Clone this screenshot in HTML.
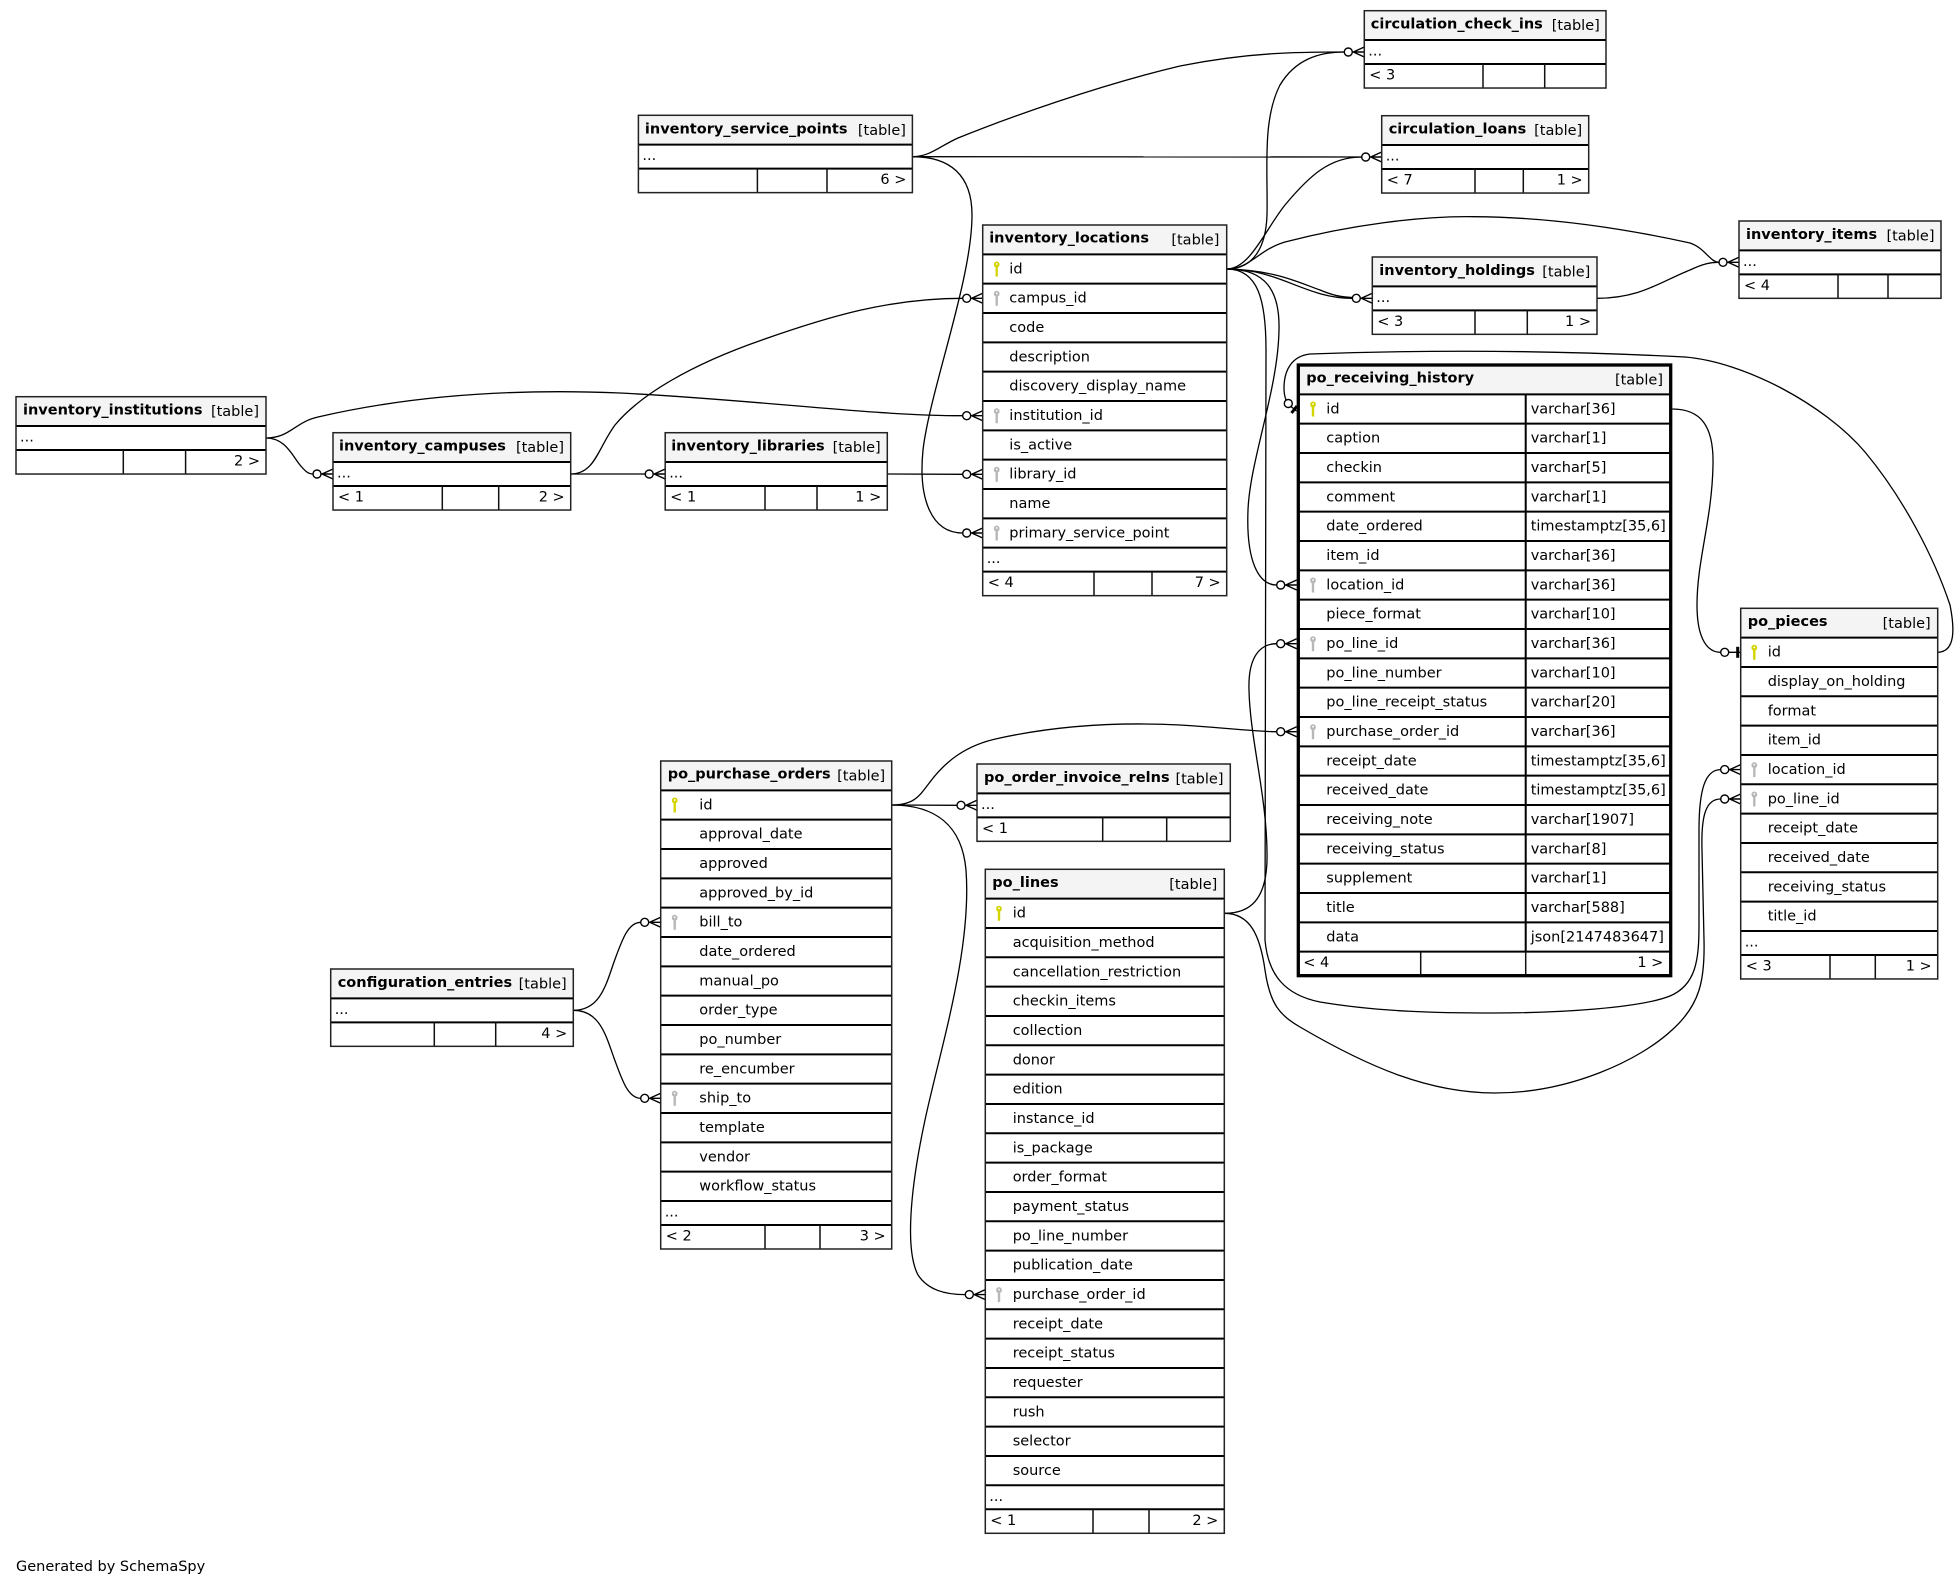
<!DOCTYPE html>
<html><head><meta charset="utf-8"><style>
html,body{margin:0;padding:0;background:#fff}
svg{display:block}
text{font-family:"DejaVu Sans","Liberation Sans",sans-serif;font-size:14.5px;fill:#000}
.b{font-weight:bold}
.r{text-anchor:end}
.bg{fill:#fff}
.hd{fill:#f4f4f4}
.ol{fill:none;stroke:#222;stroke-width:1.5}
.olt{fill:none;stroke:#000;stroke-width:3.3}
.sp{fill:none;stroke:#000;stroke-width:2}
.vs{fill:none;stroke:#111;stroke-width:1.5}
.e{fill:none;stroke:#000;stroke-width:1.3}
</style></head><body>
<svg width="1957" height="1588" viewBox="0 0 1957 1588" xmlns="http://www.w3.org/2000/svg">
<defs>
<g id="kp"><ellipse cx="0" cy="-4.5" rx="2.9" ry="3" fill="#d4d400"/><rect x="-1.2" y="-2.5" width="2.4" height="10" fill="#d4d400"/><circle cx="0" cy="-5" r="0.9" fill="#fff"/></g>
<g id="kf"><ellipse cx="0" cy="-4.5" rx="2.9" ry="3" fill="#b8b8b8"/><rect x="-1.2" y="-2.5" width="2.4" height="10" fill="#b8b8b8"/><circle cx="0" cy="-5" r="0.9" fill="#fff"/></g>
<g id="cr"><circle cx="-16" cy="0" r="4" fill="#fff" stroke="#000" stroke-width="1.4"/><path d="M-12,0H0M-11,0L0,-5M-11,0L0,5" fill="none" stroke="#000" stroke-width="1.4"/></g>
<g id="te"><circle cx="-16" cy="0" r="4" fill="#fff" stroke="#000" stroke-width="1.4"/><path d="M-12,0H0" stroke="#000" stroke-width="1.4"/><rect x="-4.5" y="-5.5" width="3" height="11" fill="#000"/></g>
</defs>

<!-- EDGES -->
<path class="e" d="M912.4,156.7 C930,156.7 940,146 958,138 C1010,117 1100,85 1180,66 C1250,52 1300,52 1344.3,52"/>
<path class="e" d="M912.4,156.7 L1361.7,157"/>
<path class="e" d="M912.4,156.7 C950,156.7 972,175 972,215 C972,280 930,390 923,450 C918,500 932,533 962.7,533"/>
<path class="e" d="M570.7,474 C595,474 598,448 615,425 C640,395 690,365 762,340 C830,316 890,298.3 962.7,298.3"/>
<path class="e" d="M266,438 C290,438 295,422 318,417 C400,398 500,388 620,393 C760,400 870,415.7 962.7,415.7"/>
<path class="e" d="M266,438 C285,438 292,455 300,465 C305,471 308,474 313,474"/>
<path class="e" d="M570.7,474 L645.2,474"/>
<path class="e" d="M887.3,474 L962.7,474.3"/>
<path class="e" d="M1226.7,269 C1255,269 1266,245 1267,215 C1268,170 1262,120 1280,85 C1295,60 1318,52 1344.3,52"/>
<path class="e" d="M1226.7,269 C1250,269 1265,230 1285,205 C1310,175 1330,157 1361.7,157"/>
<path class="e" d="M1226.7,269 C1250,269 1258,250 1285,242 C1350,225 1420,216 1473,216.7 C1560,217 1640,232 1690,243 C1705,248 1710,262.3 1719,262.3"/>
<path class="e" d="M1226.7,269 C1280,269 1305,298.3 1352.3,298.3"/>
<path class="e" d="M1226.7,269 C1275,270 1300,283 1320,290 C1332,295 1340,297 1352.3,297.5"/>
<path class="e" d="M1226.7,269 C1265,269 1280,290 1279,330 C1278,390 1250,460 1248,510 C1246,560 1258,585 1276.7,585"/>
<path class="e" d="M1226.7,269 C1258,269 1266,300 1266,350 L1265,940 C1268,975 1285,995 1320,1002 C1380,1012 1440,1013 1493,1013 C1560,1013 1640,1008 1670,996 C1696,985 1699,960 1699,925 L1699,830 C1699,790 1705,769.6 1720.7,769.6"/>
<path class="e" d="M1224.3,913.3 C1250,913.3 1266,900 1267,860 C1268,800 1250,740 1249,690 C1248,660 1258,643.7 1276.7,643.7"/>
<path class="e" d="M1224.3,913.3 C1250,913.3 1260,935 1265,970 C1270,1005 1280,1015 1300,1027 C1370,1068 1430,1093 1495,1093 C1570,1093 1640,1060 1672,1030 C1700,1005 1705,980 1704,940 L1702,850 C1701,815 1706,799 1720.7,799"/>
<path class="e" d="M891.7,805 C915,805 920,795 930,782 C945,762 965,745 1000,738 C1060,725 1120,722 1180,725 C1230,728 1255,731.7 1276.7,731.7"/>
<path class="e" d="M891.7,805 L957,805.3"/>
<path class="e" d="M891.7,805 C935,805 962,825 966,870 C972,950 940,1050 925,1120 C910,1190 905,1250 918,1275 C928,1290 945,1294.6 965.3,1294.6"/>
<path class="e" d="M573.3,1010.3 C600,1010.3 606,985 614,962 C622,940 628,922.3 640.7,922.3"/>
<path class="e" d="M573.3,1010.3 C600,1010.3 606,1036 614,1058 C622,1080 628,1098.3 640.7,1098.3"/>
<path class="e" d="M1597,298.3 C1640,298.3 1660,282 1690,270 C1703,264 1710,262.3 1719,262.3"/>
<path class="e" d="M1672.3,409 C1700,409 1714,425 1713,465 C1712,520 1697,560 1697,605 C1697,640 1708,652.3 1720.7,652.3"/>
<path class="e" d="M1937.7,652.3 C1955,652 1955,630 1950,605 C1935,560 1905,500 1865,452 C1825,405 1745,362 1685,357 C1550,350 1420,350 1310,354 C1292,356 1284,370 1284,388 C1284,395 1285,397 1286,400"/>
<circle cx="1288.3" cy="403.5" r="4" fill="#fff" stroke="#000" stroke-width="1.4"/>
<path d="M1291,406.5 L1296.5,411" stroke="#000" stroke-width="1.4"/>
<path d="M1291.5,413 L1297,406" stroke="#000" stroke-width="3"/>

<!-- MARKERS -->
<use href="#cr" x="1364.3" y="52"/>
<use href="#cr" x="1381.7" y="157"/>
<use href="#cr" x="982.7" y="533"/>
<use href="#cr" x="982.7" y="298.3"/>
<use href="#cr" x="982.7" y="415.7"/>
<use href="#cr" x="333" y="474"/>
<use href="#cr" x="665.2" y="474"/>
<use href="#cr" x="982.7" y="474.3"/>
<use href="#cr" x="1739" y="262.3"/>
<use href="#cr" x="1372.3" y="298.3"/>
<use href="#cr" x="1296.7" y="585"/>
<use href="#cr" x="1740.7" y="769.6"/>
<use href="#cr" x="1296.7" y="643.7"/>
<use href="#cr" x="1740.7" y="799"/>
<use href="#cr" x="1296.7" y="731.7"/>
<use href="#cr" x="977" y="805.3"/>
<use href="#cr" x="985.3" y="1294.6"/>
<use href="#cr" x="660.7" y="922.3"/>
<use href="#cr" x="660.7" y="1098.3"/>
<use href="#te" x="1740.7" y="652.3"/>

<!-- inventory_institutions -->
<g transform="translate(16,396.7)">
<rect class="bg" width="250" height="77.33"/><rect class="hd" width="250" height="29.33"/>
<path class="sp" d="M0,29.33H250M0,53.33H250"/>
<path class="vs" d="M107.3,53.33V77.33M169.6,53.33V77.33"/>
<rect class="ol" width="250" height="77.33"/>
<text class="b" x="7" y="18">inventory_institutions</text>
<text class="r" x="243" y="19.5">[table]</text>
<text x="4" y="44.8">...</text>
<text class="r" x="244" y="68.8">2 &gt;</text>
</g>

<!-- inventory_campuses -->
<g transform="translate(333,432.7)">
<rect class="bg" width="237.7" height="77.33"/><rect class="hd" width="237.7" height="29.33"/>
<path class="sp" d="M0,29.33H237.7M0,53.33H237.7"/>
<path class="vs" d="M109.3,53.33V77.33M165.7,53.33V77.33"/>
<rect class="ol" width="237.7" height="77.33"/>
<text class="b" x="6" y="18">inventory_campuses</text>
<text class="r" x="231" y="19.5">[table]</text>
<text x="4" y="44.8">...</text>
<text x="5" y="68.8">&lt; 1</text>
<text class="r" x="231.7" y="68.8">2 &gt;</text>
</g>

<!-- inventory_libraries -->
<g transform="translate(665.2,432.7)">
<rect class="bg" width="222.1" height="77.33"/><rect class="hd" width="222.1" height="29.33"/>
<path class="sp" d="M0,29.33H222.1M0,53.33H222.1"/>
<path class="vs" d="M99.8,53.33V77.33M151.8,53.33V77.33"/>
<rect class="ol" width="222.1" height="77.33"/>
<text class="b" x="6" y="18">inventory_libraries</text>
<text class="r" x="215.5" y="19.5">[table]</text>
<text x="4" y="44.8">...</text>
<text x="5" y="68.8">&lt; 1</text>
<text class="r" x="216.1" y="68.8">1 &gt;</text>
</g>

<!-- inventory_service_points -->
<g transform="translate(638.4,115.3)">
<rect class="bg" width="274" height="77.33"/><rect class="hd" width="274" height="29.33"/>
<path class="sp" d="M0,29.33H274M0,53.33H274"/>
<path class="vs" d="M119,53.33V77.33M188.6,53.33V77.33"/>
<rect class="ol" width="274" height="77.33"/>
<text class="b" x="6.5" y="18">inventory_service_points</text>
<text class="r" x="267.5" y="19.5">[table]</text>
<text x="4" y="44.8">...</text>
<text class="r" x="268" y="68.8">6 &gt;</text>
</g>

<!-- circulation_check_ins -->
<g transform="translate(1364.3,10.7)">
<rect class="bg" width="241.7" height="77.33"/><rect class="hd" width="241.7" height="29.33"/>
<path class="sp" d="M0,29.33H241.7M0,53.33H241.7"/>
<path class="vs" d="M118.7,53.33V77.33M180.4,53.33V77.33"/>
<rect class="ol" width="241.7" height="77.33"/>
<text class="b" x="6.5" y="18">circulation_check_ins</text>
<text class="r" x="235.5" y="19.5">[table]</text>
<text x="4" y="44.8">...</text>
<text x="5" y="68.8">&lt; 3</text>
</g>

<!-- circulation_loans -->
<g transform="translate(1381.7,115.7)">
<rect class="bg" width="207" height="77.33"/><rect class="hd" width="207" height="29.33"/>
<path class="sp" d="M0,29.33H207M0,53.33H207"/>
<path class="vs" d="M93.3,53.33V77.33M141.6,53.33V77.33"/>
<rect class="ol" width="207" height="77.33"/>
<text class="b" x="7" y="18">circulation_loans</text>
<text class="r" x="200.5" y="19.5">[table]</text>
<text x="4" y="44.8">...</text>
<text x="5" y="68.8">&lt; 7</text>
<text class="r" x="201" y="68.8">1 &gt;</text>
</g>

<!-- inventory_holdings -->
<g transform="translate(1372.3,257)">
<rect class="bg" width="224.7" height="77.33"/><rect class="hd" width="224.7" height="29.33"/>
<path class="sp" d="M0,29.33H224.7M0,53.33H224.7"/>
<path class="vs" d="M102.7,53.33V77.33M155,53.33V77.33"/>
<rect class="ol" width="224.7" height="77.33"/>
<text class="b" x="7" y="18">inventory_holdings</text>
<text class="r" x="218" y="19.5">[table]</text>
<text x="4" y="44.8">...</text>
<text x="5" y="68.8">&lt; 3</text>
<text class="r" x="218.7" y="68.8">1 &gt;</text>
</g>

<!-- inventory_items -->
<g transform="translate(1739,221)">
<rect class="bg" width="202" height="77.33"/><rect class="hd" width="202" height="29.33"/>
<path class="sp" d="M0,29.33H202M0,53.33H202"/>
<path class="vs" d="M99,53.33V77.33M149,53.33V77.33"/>
<rect class="ol" width="202" height="77.33"/>
<text class="b" x="7" y="18">inventory_items</text>
<text class="r" x="195.5" y="19.5">[table]</text>
<text x="4" y="44.8">...</text>
<text x="5" y="68.8">&lt; 4</text>
</g>

<!-- po_order_invoice_relns -->
<g transform="translate(977,764)">
<rect class="bg" width="253.3" height="77.33"/><rect class="hd" width="253.3" height="29.33"/>
<path class="sp" d="M0,29.33H253.3M0,53.33H253.3"/>
<path class="vs" d="M125.7,53.33V77.33M189.7,53.33V77.33"/>
<rect class="ol" width="253.3" height="77.33"/>
<text class="b" x="7" y="18">po_order_invoice_relns</text>
<text class="r" x="246.5" y="19.5">[table]</text>
<text x="4" y="44.8">...</text>
<text x="5" y="68.8">&lt; 1</text>
</g>

<!-- configuration_entries -->
<g transform="translate(330.7,969)">
<rect class="bg" width="242.6" height="77.33"/><rect class="hd" width="242.6" height="29.33"/>
<path class="sp" d="M0,29.33H242.6M0,53.33H242.6"/>
<path class="vs" d="M103.6,53.33V77.33M165,53.33V77.33"/>
<rect class="ol" width="242.6" height="77.33"/>
<text class="b" x="7" y="18">configuration_entries</text>
<text class="r" x="236" y="19.5">[table]</text>
<text x="4" y="44.8">...</text>
<text class="r" x="236.6" y="68.8">4 &gt;</text>
</g>

<!-- inventory_locations -->
<g transform="translate(982.7,225)">
<rect class="bg" width="244" height="370.67"/><rect class="hd" width="244" height="29.33"/>
<path class="sp" d="M0,29.33H244M0,58.67H244M0,88H244M0,117.33H244M0,146.67H244M0,176H244M0,205.33H244M0,234.67H244M0,264H244M0,293.33H244M0,322.67H244M0,346.67H244"/>
<path class="vs" d="M111.3,346.67V370.67M169.3,346.67V370.67"/>
<rect class="ol" width="244" height="370.67"/>
<text class="b" x="6.5" y="17.5">inventory_locations</text>
<text class="r" x="236.7" y="19.5">[table]</text>
<use href="#kp" x="14" y="44"/><use href="#kf" x="14" y="73.3"/><use href="#kf" x="14" y="190.7"/><use href="#kf" x="14" y="249.3"/><use href="#kf" x="14" y="308"/>
<text x="26.6" y="48.3">id</text>
<text x="26.6" y="77.7">campus_id</text>
<text x="26.6" y="107">code</text>
<text x="26.6" y="136.3">description</text>
<text x="26.6" y="165.7">discovery_display_name</text>
<text x="26.6" y="195">institution_id</text>
<text x="26.6" y="224.3">is_active</text>
<text x="26.6" y="253.7">library_id</text>
<text x="26.6" y="283">name</text>
<text x="26.6" y="312.3">primary_service_point</text>
<text x="4" y="338.2">...</text>
<text x="5" y="362.2">&lt; 4</text>
<text class="r" x="238" y="362.2">7 &gt;</text>
</g>

<!-- po_receiving_history -->
<g transform="translate(1298.3,365)">
<rect class="bg" width="372.4" height="610.67"/><rect class="hd" width="372.4" height="29.33"/>
<path class="sp" d="M0,29.33H372.4M0,58.67H372.4M0,88H372.4M0,117.33H372.4M0,146.67H372.4M0,176H372.4M0,205.33H372.4M0,234.67H372.4M0,264H372.4M0,293.33H372.4M0,322.67H372.4M0,352H372.4M0,381.33H372.4M0,410.67H372.4M0,440H372.4M0,469.33H372.4M0,498.67H372.4M0,528H372.4M0,557.33H372.4M0,586.67H372.4M227.4,29.33V586.67"/>
<path class="vs" d="M122.4,586.67V610.67M227.4,586.67V610.67"/>
<rect class="olt" width="372.4" height="610.67"/>
<text class="b" x="8" y="17.5">po_receiving_history</text>
<text class="r" x="364.7" y="19.5">[table]</text>
<use href="#kp" x="14.7" y="44"/><use href="#kf" x="14.7" y="220"/><use href="#kf" x="14.7" y="278.7"/><use href="#kf" x="14.7" y="366.7"/>
<text x="28" y="48.3">id</text><text x="232.4" y="48.3">varchar[36]</text>
<text x="28" y="77.7">caption</text><text x="232.4" y="77.7">varchar[1]</text>
<text x="28" y="107">checkin</text><text x="232.4" y="107">varchar[5]</text>
<text x="28" y="136.3">comment</text><text x="232.4" y="136.3">varchar[1]</text>
<text x="28" y="165.7">date_ordered</text><text x="232.4" y="165.7">timestamptz[35,6]</text>
<text x="28" y="195">item_id</text><text x="232.4" y="195">varchar[36]</text>
<text x="28" y="224.3">location_id</text><text x="232.4" y="224.3">varchar[36]</text>
<text x="28" y="253.7">piece_format</text><text x="232.4" y="253.7">varchar[10]</text>
<text x="28" y="283">po_line_id</text><text x="232.4" y="283">varchar[36]</text>
<text x="28" y="312.3">po_line_number</text><text x="232.4" y="312.3">varchar[10]</text>
<text x="28" y="341.7">po_line_receipt_status</text><text x="232.4" y="341.7">varchar[20]</text>
<text x="28" y="371">purchase_order_id</text><text x="232.4" y="371">varchar[36]</text>
<text x="28" y="400.3">receipt_date</text><text x="232.4" y="400.3">timestamptz[35,6]</text>
<text x="28" y="429.7">received_date</text><text x="232.4" y="429.7">timestamptz[35,6]</text>
<text x="28" y="459">receiving_note</text><text x="232.4" y="459">varchar[1907]</text>
<text x="28" y="488.3">receiving_status</text><text x="232.4" y="488.3">varchar[8]</text>
<text x="28" y="517.7">supplement</text><text x="232.4" y="517.7">varchar[1]</text>
<text x="28" y="547">title</text><text x="232.4" y="547">varchar[588]</text>
<text x="28" y="576.3">data</text><text x="232.4" y="576.3">json[2147483647]</text>
<text x="5" y="602.2">&lt; 4</text>
<text class="r" x="365" y="602.2">1 &gt;</text>
</g>

<!-- po_pieces -->
<g transform="translate(1740.7,608.3)">
<rect class="bg" width="197" height="370.67"/><rect class="hd" width="197" height="29.33"/>
<path class="sp" d="M0,29.33H197M0,58.67H197M0,88H197M0,117.33H197M0,146.67H197M0,176H197M0,205.33H197M0,234.67H197M0,264H197M0,293.33H197M0,322.67H197M0,346.67H197"/>
<path class="vs" d="M89.3,346.67V370.67M134.6,346.67V370.67"/>
<rect class="ol" width="197" height="370.67"/>
<text class="b" x="7" y="17.5">po_pieces</text>
<text class="r" x="190" y="19.5">[table]</text>
<use href="#kp" x="13.6" y="44"/><use href="#kf" x="13.6" y="161.3"/><use href="#kf" x="13.6" y="190.7"/>
<text x="27" y="48.3">id</text>
<text x="27" y="77.7">display_on_holding</text>
<text x="27" y="107">format</text>
<text x="27" y="136.3">item_id</text>
<text x="27" y="165.7">location_id</text>
<text x="27" y="195">po_line_id</text>
<text x="27" y="224.3">receipt_date</text>
<text x="27" y="253.7">received_date</text>
<text x="27" y="283">receiving_status</text>
<text x="27" y="312.3">title_id</text>
<text x="4" y="338.2">...</text>
<text x="5" y="362.2">&lt; 3</text>
<text class="r" x="191" y="362.2">1 &gt;</text>
</g>

<!-- po_purchase_orders -->
<g transform="translate(660.7,761)">
<rect class="bg" width="231" height="488"/><rect class="hd" width="231" height="29.33"/>
<path class="sp" d="M0,29.33H231M0,58.67H231M0,88H231M0,117.33H231M0,146.67H231M0,176H231M0,205.33H231M0,234.67H231M0,264H231M0,293.33H231M0,322.67H231M0,352H231M0,381.33H231M0,410.67H231M0,440H231M0,464H231"/>
<path class="vs" d="M104.3,464V488M159.3,464V488"/>
<rect class="ol" width="231" height="488"/>
<text class="b" x="7" y="17.5">po_purchase_orders</text>
<text class="r" x="224.5" y="19.5">[table]</text>
<use href="#kp" x="14" y="44"/><use href="#kf" x="14" y="161.3"/><use href="#kf" x="14" y="337.3"/>
<text x="38.6" y="48.3">id</text>
<text x="38.6" y="77.7">approval_date</text>
<text x="38.6" y="107">approved</text>
<text x="38.6" y="136.3">approved_by_id</text>
<text x="38.6" y="165.7">bill_to</text>
<text x="38.6" y="195">date_ordered</text>
<text x="38.6" y="224.3">manual_po</text>
<text x="38.6" y="253.7">order_type</text>
<text x="38.6" y="283">po_number</text>
<text x="38.6" y="312.3">re_encumber</text>
<text x="38.6" y="341.7">ship_to</text>
<text x="38.6" y="371">template</text>
<text x="38.6" y="400.3">vendor</text>
<text x="38.6" y="429.7">workflow_status</text>
<text x="4" y="455.5">...</text>
<text x="5" y="479.5">&lt; 2</text>
<text class="r" x="225" y="479.5">3 &gt;</text>
</g>

<!-- po_lines -->
<g transform="translate(985.3,869.3)">
<rect class="bg" width="239" height="664"/><rect class="hd" width="239" height="29.33"/>
<path class="sp" d="M0,29.33H239M0,58.67H239M0,88H239M0,117.33H239M0,146.67H239M0,176H239M0,205.33H239M0,234.67H239M0,264H239M0,293.33H239M0,322.67H239M0,352H239M0,381.33H239M0,410.67H239M0,440H239M0,469.33H239M0,498.67H239M0,528H239M0,557.33H239M0,586.67H239M0,616H239M0,640H239"/>
<path class="vs" d="M107.7,640V664M163.7,640V664"/>
<rect class="ol" width="239" height="664"/>
<text class="b" x="7" y="17.5">po_lines</text>
<text class="r" x="232" y="19.5">[table]</text>
<use href="#kp" x="13.7" y="44"/><use href="#kf" x="13.7" y="425.3"/>
<text x="27.4" y="48.3">id</text>
<text x="27.4" y="77.7">acquisition_method</text>
<text x="27.4" y="107">cancellation_restriction</text>
<text x="27.4" y="136.3">checkin_items</text>
<text x="27.4" y="165.7">collection</text>
<text x="27.4" y="195">donor</text>
<text x="27.4" y="224.3">edition</text>
<text x="27.4" y="253.7">instance_id</text>
<text x="27.4" y="283">is_package</text>
<text x="27.4" y="312.3">order_format</text>
<text x="27.4" y="341.7">payment_status</text>
<text x="27.4" y="371">po_line_number</text>
<text x="27.4" y="400.3">publication_date</text>
<text x="27.4" y="429.7">purchase_order_id</text>
<text x="27.4" y="459">receipt_date</text>
<text x="27.4" y="488.3">receipt_status</text>
<text x="27.4" y="517.7">requester</text>
<text x="27.4" y="547">rush</text>
<text x="27.4" y="576.3">selector</text>
<text x="27.4" y="605.7">source</text>
<text x="4" y="631.5">...</text>
<text x="5" y="655.5">&lt; 1</text>
<text class="r" x="233" y="655.5">2 &gt;</text>
</g>

<text x="16" y="1571">Generated by SchemaSpy</text>
</svg>
</body></html>
